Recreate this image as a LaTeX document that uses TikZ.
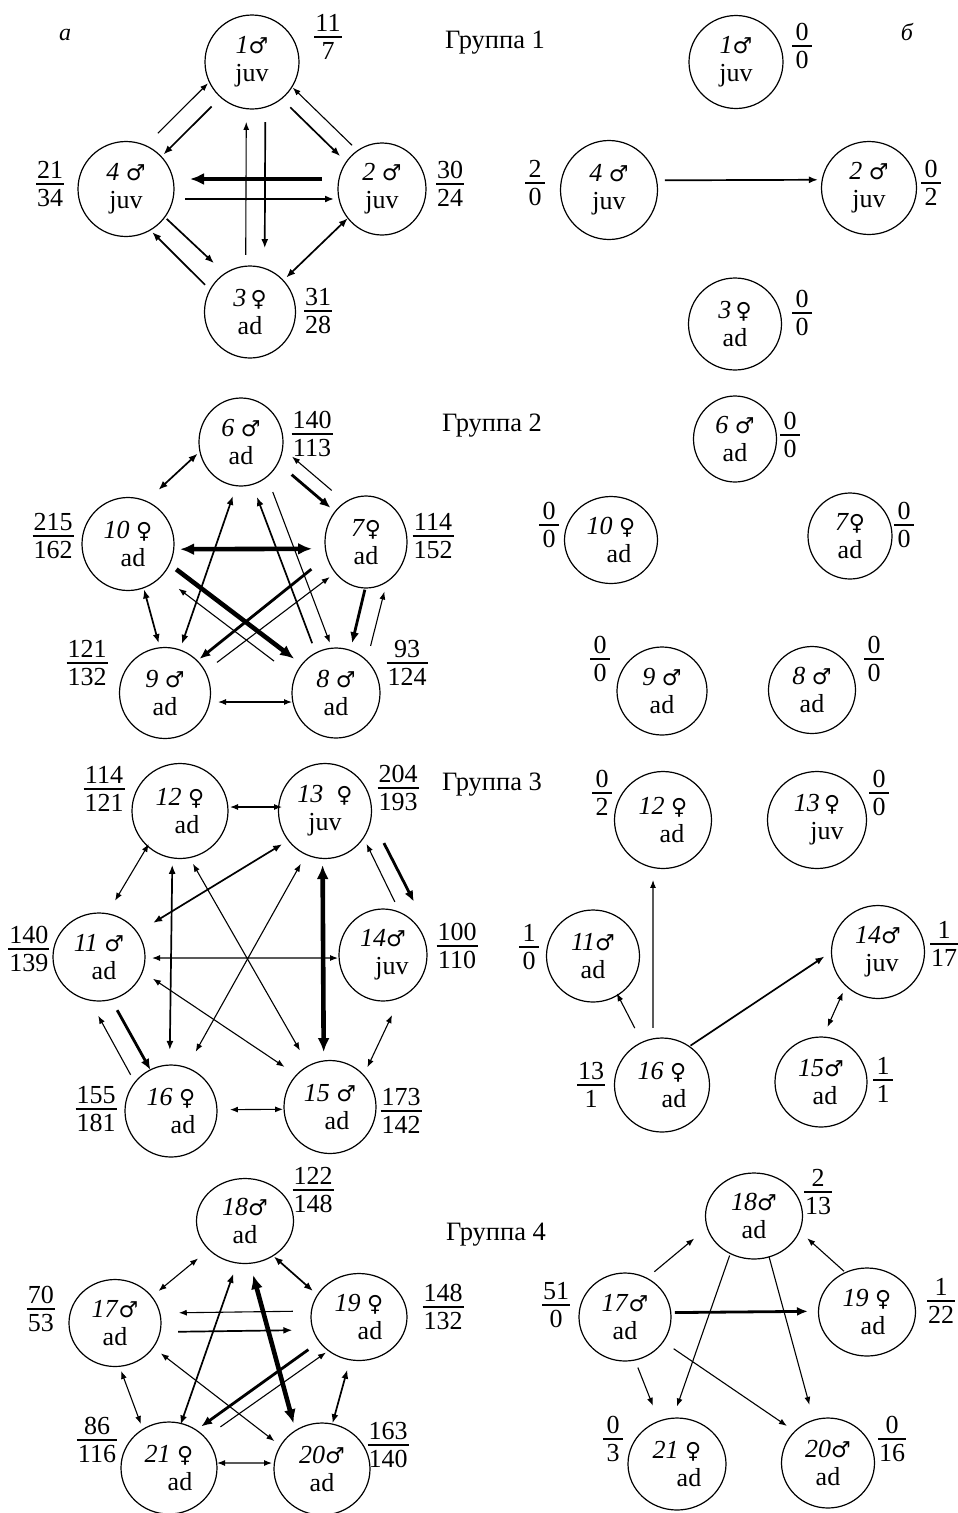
\documentclass[tikz,border=0pt]{standalone}
\usepackage{fontspec}
\setmainfont{Liberation Serif}
\newfontfamily\symf{DejaVu Sans}
\newcommand\symM{{\symf\fontsize{22}{28}\selectfont ♂}}
\newcommand\symF{{\symf\fontsize{22}{28}\selectfont ♀}}
\usetikzlibrary{calc,arrows.meta,shapes.geometric}
\setlength\arrayrulewidth{1.5pt}
\newcommand\fr[2]{\begin{tabular}{@{\hspace{1pt}}c@{\hspace{1pt}}}\ooalign{\hfil#1\hfil\cr\hskip18pt\cr}\\[-4pt]\hline\rule{0pt}{22pt}#2\end{tabular}}
\newcommand\lk[7]{\draw[#1, shorten <=#6pt, shorten >=#7pt] ($(#2)!#4pt!90:(#3)$) -- ($(#3)!#5pt!-90:(#2)$);}
\newcommand\N[6]{\node[nd, minimum width=#4pt, minimum height=#5pt] (#1) at (#2,#3) {#6};}
\newcommand\F[5]{\node[fracn] (#1) at (#2,#3) {\fr{#4}{#5}};}
\tikzset{
 nd/.style={ellipse, draw, line width=1.2pt, inner sep=0pt, align=center, font=\fontsize{26}{28}\selectfont},
 fracn/.style={inner sep=0pt, font=\fontsize{26}{29}\selectfont},
 grp/.style={inner sep=0pt, anchor=base, font=\fontsize{26.5}{30}\selectfont},
 panel/.style={inner sep=0pt, font=\fontsize{24}{28}\selectfont\itshape},
 arA/.style={line width=1.1pt,-{Latex[length=8pt,width=6pt]}},
 dbA/.style={line width=1.1pt,{Latex[length=8pt,width=6pt]}-{Latex[length=8pt,width=6pt]}},
 arB/.style={line width=1.7pt,-{Latex[length=9pt,width=7pt]}},
 dbB/.style={line width=1.7pt,{Latex[length=9pt,width=7pt]}-{Latex[length=9pt,width=7pt]}},
 arC/.style={line width=2.8pt,-{Latex[length=11pt,width=9pt]}},
 dbC/.style={line width=2.8pt,{Latex[length=11pt,width=9pt]}-{Latex[length=11pt,width=9pt]}},
 arD/.style={line width=4.6pt,-{Latex[length=14pt,width=12pt]}},
 dbD/.style={line width=4.6pt,{Latex[length=14pt,width=12pt]}-{Latex[length=14pt,width=12pt]}},
}
\begin{document}
\begin{tikzpicture}[x=1pt,y=-1pt]
\useasboundingbox (0,0) rectangle (958,1513);
% labels
\node[panel] (pa) at (65,35) {а};
\node[panel] (pb) at (907,32) {б};
\node[grp] (g1) at (495,48) {Группа 1};
\node[grp] (g2) at (492,431) {Группа 2};
\node[grp] (g3) at (492,790) {Группа 3};
\node[grp] (g4) at (496,1240) {Группа 4};
% ---------------- Group 1
\N{p1}{252}{62}{94}{94}{\textit{1}\symM\\juv}
\N{p4}{126}{189}{96}{95}{\textit{4} \symM\\juv}
\N{p2}{382}{189}{88}{92}{\textit{2} \symM\\juv}
\N{p3}{250}{312}{91}{92}{\textit{3}\,\symF\\ad}
\N{q1}{736}{62}{94}{93}{\textit{1}\symM\\juv}
\N{q4}{609}{190}{97}{99}{\textit{4} \symM\\juv}
\N{q2}{869}{188}{95}{93}{\textit{2} \symM\\juv}
\N{q3}{735}{324}{93}{92}{\textit{3}\,\symF\\ad}
\F{fp1}{328}{40}{11}{7}
\F{fp4}{50}{187}{21}{34}
\F{fp2}{450}{187}{30}{24}
\F{fp3}{318}{314}{31}{28}
\F{fq1}{802}{49}{0}{0}
\F{fq4}{535}{186}{2}{0}
\F{fq2}{931}{186}{0}{2}
\F{fq3}{802}{316}{0}{0}
\lk{arA}{p4}{p1}{17}{16}{62}{46}
\lk{arB}{p1}{p4}{3}{2}{60}{51}
\lk{arA}{p2}{p1}{-10.5}{-10}{52}{47}
\lk{arB}{p1}{p2}{-5.6}{-5.8}{59}{53}
\lk{arD}{p2}{p4}{-10}{-10}{60}{64}
\lk{arB}{p4}{p2}{-10}{-10}{59}{48}
\lk{arA}{p3}{p1}{4.5}{5.5}{57}{60}
\lk{arB}{p1}{p3}{13.5}{14.5}{60}{64}
\lk{arB}{p4}{p3}{6}{11}{50}{60}
\lk{arB}{p3}{p4}{12.5}{12}{51}{49}
\lk{dbB}{p2}{p3}{-2.7}{0.3}{45}{50}
\lk{arB}{q4}{q2}{9.5}{8.4}{56}{51}
% ---------------- Group 2
\N{p6}{241}{442}{84}{88}{\textit{6} \symM\\ad}
\N{p10}{128}{544}{92}{93}{\textit{10} \symF\\\hspace*{10pt}ad}
\N{p7}{366}{542}{82}{92}{\textit{7}\symF\\ad}
\N{p9}{165}{693}{91}{91}{\textit{9} \symM\\ad}
\N{p8}{336}{693}{88}{90}{\textit{8} \symM\\ad}
\N{q6}{735}{439}{83}{86}{\textit{6} \symM\\ad}
\N{q10}{611}{540}{93}{87}{\textit{10} \symF\\\hspace*{16pt}ad}
\N{q7}{850}{536}{84}{86}{\textit{7}\symF\\ad}
\N{q9}{662}{691}{90}{88}{\textit{9} \symM\\ad}
\N{q8}{812}{690}{87}{87}{\textit{8} \symM\\ad}
\F{fp6}{312}{437}{140}{113}
\F{fp10}{53}{539}{215}{162}
\F{fp7}{433}{539}{114}{152}
\F{fp9}{87}{666}{121}{132}
\F{fp8}{407}{666}{93}{124}
\F{fq6}{790}{438}{0}{0}
\F{fq10}{549}{528}{0}{0}
\F{fq7}{904}{528}{0}{0}
\F{fq9}{600}{662}{0}{0}
\F{fq8}{874}{662}{0}{0}
\lk{dbB}{p6}{p10}{-21}{-19}{40}{59}
\lk{arC}{p6}{p7}{8}{3}{60}{49}
\lk{arA}{p7}{p6}{-17}{-22}{59}{49}
\lk{dbD}{p10}{p7}{-5.4}{-6.6}{52}{54}
\lk{arD}{p10}{p8}{9}{2}{54}{54}
\lk{arA}{p8}{p10}{12}{5}{69}{67}
\lk{arC}{p7}{p9}{-13}{-5}{60}{48}
\lk{arA}{p9}{p7}{-7}{-6}{60}{50}
\lk{dbB}{p6}{p9}{10}{0}{54}{52}
\lk{arB}{p8}{p6}{4.7}{4.5}{55}{57}
\lk{arA}{p6}{p8}{12}{12}{58}{49}
\lk{arC}{p7}{p8}{10}{4}{47}{52}
\lk{arA}{p8}{p7}{-22}{-30}{53}{45}
\lk{dbB}{p10}{p9}{3.5}{7}{48}{50}
\lk{dbA}{p9}{p8}{-9}{-9}{53}{44}
% ---------------- Group 3
\N{p12}{180}{811}{96}{95}{\textit{12} \symF\\\hspace*{14pt}ad}
\N{p13}{325}{811}{93}{95}{\textit{13}\enspace\symF\\juv}
\N{p11}{99}{957}{92}{88}{\textit{11} \symM\\\hspace*{10pt}ad}
\N{p14}{383}{955}{88}{92}{\textit{14}\symM\\\hspace*{18pt}juv}
\N{p16}{171}{1111}{92}{92}{\textit{16} \symF\\\hspace*{24pt}ad}
\N{p15}{330}{1107}{92}{93}{\textit{15} \symM\\\hspace*{14pt}ad}
\N{q12}{663}{820}{97}{97}{\textit{12} \symF\\\hspace*{18pt}ad}
\N{q13}{817}{820}{99}{97}{\textit{13}\,\symF\\\hspace*{20pt}juv}
\N{q11}{593}{956}{93}{92}{\textit{11}\symM\\ad}
\N{q14}{878}{952}{93}{93}{\textit{14}\symM\\\hspace*{8pt}juv}
\N{q16}{662}{1085}{95}{94}{\textit{16} \symF\\\hspace*{24pt}ad}
\N{q15}{821}{1082}{92}{90}{\textit{15}\symM\\\hspace*{8pt}ad}
\F{fp12}{104}{792}{114}{121}
\F{fp13}{398}{791}{204}{193}
\F{fp11}{29}{952}{140}{139}
\F{fp14}{457}{949}{100}{110}
\F{fp16}{96}{1112}{155}{181}
\F{fp15}{401}{1114}{173}{142}
\F{fq12}{602}{796}{0}{2}
\F{fq13}{879}{796}{0}{0}
\F{fq11}{529}{950}{1}{0}
\F{fq14}{944}{947}{1}{17}
\F{fq16}{591}{1088}{13}{1}
\F{fq15}{883}{1083}{1}{1}
\lk{dbA}{p12}{p13}{4}{4}{50}{43}
\lk{dbA}{p12}{p11}{-10}{-15}{44}{57}
\lk{dbB}{p13}{p11}{6}{-1}{54}{64}
\lk{dbB}{p12}{p16}{-7}{-2}{54}{61}
\lk{dbA}{p12}{p15}{-15}{2}{53}{64}
\lk{dbA}{p13}{p16}{4.6}{-7.4}{58}{64}
\lk{dbD}{p13}{p15}{-2.7}{-6}{54}{55}
\lk{arA}{p14}{p13}{-34}{-23}{45}{46}
\lk{arC}{p13}{p14}{38}{52}{52}{38}
\lk{dbA}{p11}{p14}{-1}{-3}{53}{45}
\lk{dbA}{p11}{p15}{12}{8}{57}{60}
\lk{dbA}{p14}{p15}{34}{17}{54}{50}
\lk{arC}{p11}{p16}{-10}{2}{56}{46}
\lk{arA}{p16}{p11}{18}{29}{50}{53}
\lk{dbA}{p16}{p15}{1}{-2}{59}{47}
\lk{arA}{q16}{q12}{9}{10}{57}{60}
\lk{arA}{q16}{q11}{-2}{-4}{63}{44}
\lk{arB}{q16}{q14}{17}{26}{45}{48}
\lk{dbA}{q15}{q14}{16.5}{15.6}{53}{51}
% ---------------- Group 4
\N{p18}{245}{1221}{97}{85}{\textit{18}\symM\\ad}
\N{p17}{115}{1323}{92}{87}{\textit{17}\symM\\ad}
\N{p19}{359}{1317}{96}{87}{\textit{19} \symF\\\hspace*{22pt}ad}
\N{p21}{169}{1468}{96}{92}{\textit{21} \symF\\\hspace*{22pt}ad}
\N{p20}{322}{1469}{96}{92}{\textit{20}\symM\\ad}
\N{q18}{754}{1216}{97}{86}{\textit{18}\symM\\ad}
\N{q17}{625}{1317}{92}{88}{\textit{17}\symM\\ad}
\N{q19}{867}{1312}{97}{88}{\textit{19} \symF\\\hspace*{12pt}ad}
\N{q21}{677}{1464}{98}{92}{\textit{21} \symF\\\hspace*{24pt}ad}
\N{q20}{828}{1463}{93}{90}{\textit{20}\symM\\ad}
\F{fp18}{313}{1193}{122}{148}
\F{fp17}{41}{1312}{70}{53}
\F{fp19}{443}{1310}{148}{132}
\F{fp21}{97}{1443}{86}{116}
\F{fp20}{388}{1448}{163}{140}
\F{fq18}{818}{1195}{2}{13}
\F{fq17}{556}{1308}{51}{0}
\F{fq19}{941}{1304}{1}{22}
\F{fq21}{613}{1442}{0}{3}
\F{fq20}{892}{1442}{0}{16}
\lk{dbA}{p18}{p17}{-1}{3}{60}{54}
\lk{dbB}{p18}{p19}{-7.5}{-11}{45}{52}
\lk{arA}{p19}{p17}{-6.6}{-9.4}{66}{64}
\lk{arB}{p17}{p19}{-9.6}{-12.3}{63}{67}
\lk{dbB}{p18}{p21}{6.4}{-3.4}{54}{45}
\lk{dbD}{p18}{p20}{-6.3}{-15.5}{54}{52}
\lk{dbA}{p17}{p20}{4}{-7}{55}{55}
\lk{arC}{p19}{p21}{-3}{-15}{60}{51}
\lk{arA}{p21}{p19}{4}{-10}{66}{48}
\lk{dbA}{p17}{p21}{-11}{-11}{47}{51}
\lk{dbB}{p19}{p20}{2.7}{-2}{54}{47}
\lk{dbA}{p21}{p20}{5}{6}{48}{50}
\lk{arA}{q17}{q18}{16}{21}{51}{61}
\lk{arA}{q19}{q18}{-15}{-19}{44}{55}
\lk{arC}{q17}{q19}{4}{1.2}{50}{59}
\lk{arA}{q17}{q21}{-6.6}{-1}{52}{63}
\lk{arA}{q18}{q21}{-10}{-19}{45}{55}
\lk{arA}{q18}{q20}{3.8}{-2.6}{43}{61}
\lk{arA}{q17}{q20}{1.2}{7.5}{58}{55}
\end{tikzpicture}
\end{document}
